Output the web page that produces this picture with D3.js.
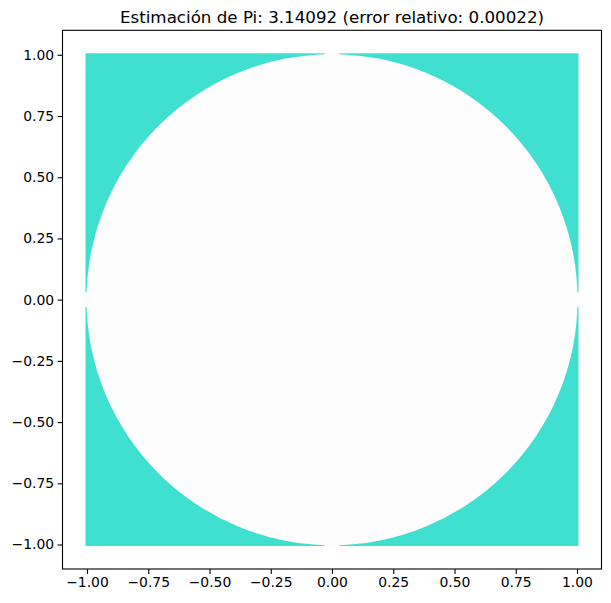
<!DOCTYPE html>
<html><head><meta charset="utf-8">
<script src="https://cdn.jsdelivr.net/npm/d3@7"></script>
<style>body{margin:0;background:#fff}svg{display:block}text{font-family:"DejaVu Sans",sans-serif}</style>
</head><body><svg id="c" width="611" height="603"></svg>
<script>
// Data
const piEstimate = 3.14092;
const relError = 0.00022;
const sampleSquare = [-1, 1];          // sampled region in x and y
const circleRadius = 1;                 // unit circle (points inside)
const axisDomain = [-1.1, 1.1];
const xTicks = [-1.00, -0.75, -0.50, -0.25, 0.00, 0.25, 0.50, 0.75, 1.00];
const yTicks = [-1.00, -0.75, -0.50, -0.25, 0.00, 0.25, 0.50, 0.75, 1.00];
// sparse spots where no outside points landed (circle touches square)
const sparseTips = [{x:0, y:1}, {x:0, y:-1}, {x:1, y:0}, {x:-1, y:0}];
const tipHalfWidth = 0.03;

const outsideColor = "#40e0d0";
const insideColor = "#fdfdfd";

const L = 62.5, R = 601.5, T = 30.3, B = 569;
const svg = d3.select("#c");
const x = d3.scaleLinear().domain(axisDomain).range([L, R]);
const y = d3.scaleLinear().domain(axisDomain).range([B, T]);

svg.append("defs").append("clipPath").attr("id","clip")
  .append("rect").attr("x",L).attr("y",T).attr("width",R-L).attr("height",B-T);
const g = svg.append("g").attr("clip-path","url(#clip)");
const m = 1.5; // marker half size
g.append("rect")
  .attr("x", x(sampleSquare[0]) - m).attr("y", y(sampleSquare[1]) - m)
  .attr("width", x(sampleSquare[1]) - x(sampleSquare[0]) + 2*m)
  .attr("height", y(sampleSquare[0]) - y(sampleSquare[1]) + 2*m)
  .attr("fill", outsideColor);
g.append("circle")
  .attr("cx", x(0)).attr("cy", y(0))
  .attr("r", x(circleRadius) - x(0) + 0.5)
  .attr("fill", insideColor);
g.selectAll(".tip").data(sparseTips).join("rect")
  .attr("x", d => d.x === 0 ? x(-tipHalfWidth) : x(d.x) - m - 1)
  .attr("y", d => d.y === 0 ? y(tipHalfWidth) : y(d.y) - m - 1)
  .attr("width", d => d.x === 0 ? x(tipHalfWidth) - x(-tipHalfWidth) : 2*m + 2)
  .attr("height", d => d.y === 0 ? y(-tipHalfWidth) - y(tipHalfWidth) : 2*m + 2)
  .attr("fill", insideColor);

const fmt = d3.format(".2f");
const xAxis = svg.append("g").attr("transform", `translate(0,${B})`)
  .call(d3.axisBottom(x).tickValues(xTicks).tickFormat(fmt).tickSize(4.9).tickPadding(3.5).tickSizeOuter(0));
const yAxis = svg.append("g").attr("transform", `translate(${L},0)`)
  .call(d3.axisLeft(y).tickValues(yTicks).tickFormat(fmt).tickSize(4.9).tickPadding(3.5).tickSizeOuter(0));
[xAxis, yAxis].forEach(a => {
  a.select(".domain").remove();
  a.selectAll("line").attr("stroke","#000").attr("stroke-width",1.1);
  a.selectAll("text").attr("font-family","DejaVu Sans").attr("font-size",13.9).attr("fill","#000");
});
svg.append("rect").attr("x",L).attr("y",T).attr("width",R-L).attr("height",B-T)
  .attr("fill","none").attr("stroke","#000").attr("stroke-width",1.1);

svg.append("text").attr("x",(L+R)/2).attr("y",T-7.5).attr("text-anchor","middle")
  .attr("font-size",16.7).attr("fill","#000")
  .text(`Estimación de Pi: ${piEstimate.toFixed(5)} (error relativo: ${relError.toFixed(5)})`);
</script></body></html>
